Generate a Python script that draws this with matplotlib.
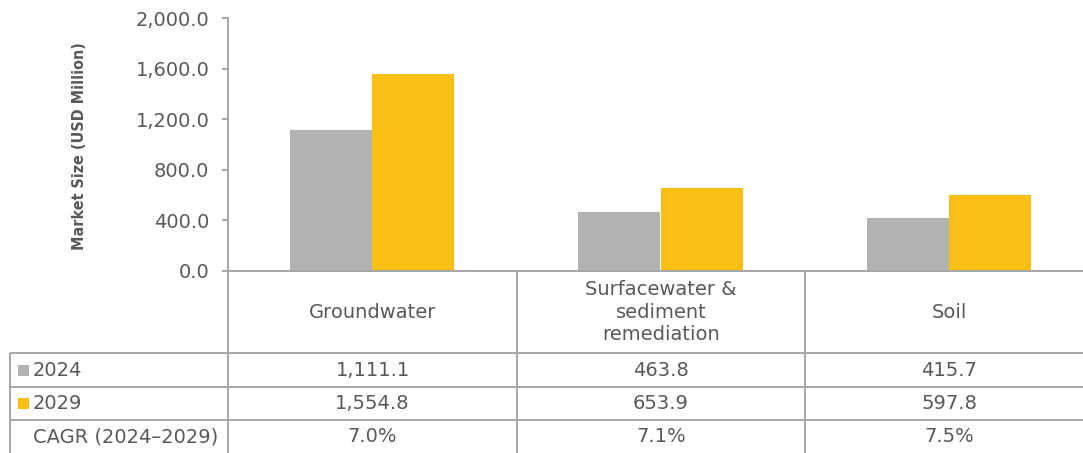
import numpy as np
import matplotlib
matplotlib.use('Agg')
import matplotlib.pyplot as plt
from matplotlib.patches import Rectangle

plt.rcParams['font.family'] = ['DejaVu Sans']

categories = ['Groundwater', 'Surfacewater &\nsediment\nremediation', 'Soil']
years = ['2024', '2029']
values_2024 = [1111.1, 463.8, 415.7]
values_2029 = [1554.8, 653.9, 597.8]
cagr = ['7.0%', '7.1%', '7.5%']
yticks = [0, 400, 800, 1200, 1600, 2000]

c_2024 = '#b1b2b4'
c_2029 = '#f9bf14'
txt = '#595959'
grid = '#a6a6a6'

W, H = 1083, 453
fig = plt.figure(figsize=(W / 100, H / 100), dpi=100)

# table frame and text, drawn in pixel coordinates
tab = fig.add_axes([0, 0, 1, 1])
tab.set_xlim(0, W)
tab.set_ylim(H, 0)
tab.axis('off')

col_edges = [228, 517, 805, 1093]
col_mid = [(a + b) / 2 for a, b in zip(col_edges[:-1], col_edges[1:])]
row_edges = [353, 387, 420, 454]
row_mid = [(a + b) / 2 for a, b in zip(row_edges[:-1], row_edges[1:])]

lw = 1.4
for x in col_edges[:-1]:
    tab.plot([x, x], [271, H], color=grid, lw=lw, solid_capstyle='butt')
tab.plot([10, 10], [353, H], color=grid, lw=lw, solid_capstyle='butt')
for y in row_edges[:-1]:
    tab.plot([10, W], [y, y], color=grid, lw=lw, solid_capstyle='butt')

fs = 14
for xm, cat in zip(col_mid, categories):
    tab.text(xm, 312, cat, ha='center', va='center', fontsize=fs, color=txt, linespacing=1.25)

rows = [
    [f'{v:,.1f}' for v in values_2024],
    [f'{v:,.1f}' for v in values_2029],
    cagr,
]
labels = years + ['CAGR (2024\u20132029)']
for ym, row, lab in zip(row_mid, rows, labels):
    tab.text(33, ym, lab, ha='left', va='center', fontsize=fs, color=txt)
    for xm, s in zip(col_mid, row):
        tab.text(xm, ym, s, ha='center', va='center', fontsize=fs, color=txt)
for ym, c in zip(row_mid[:2], [c_2024, c_2029]):
    tab.add_patch(Rectangle((18, ym - 5.5), 11, 11, color=c, lw=0))

# bar chart
ax = fig.add_axes([228 / W, (H - 271) / H, (1093 - 228) / W, (271 - 18) / H])
ax.patch.set_alpha(0)
x = np.arange(len(categories))
bw = 0.285
ax.bar(x - bw / 2, values_2024, bw, color=c_2024, edgecolor='none')
ax.bar(x + bw / 2, values_2029, bw, color=c_2029, edgecolor='none')
ax.set_xlim(-0.5, 2.5)
ax.set_ylim(0, 2000)
ax.set_yticks(yticks)
ax.set_yticklabels([f'{t:,.1f}' for t in yticks])
ax.set_xticks([])
ax.tick_params(axis='y', colors=grid, labelcolor=txt, labelsize=fs, length=4.5, width=lw, pad=9)
for s in ['top', 'right']:
    ax.spines[s].set_visible(False)
for s in ['left', 'bottom']:
    ax.spines[s].set_color(grid)
    ax.spines[s].set_linewidth(lw)

fig.text(80 / W, 1 - 146 / H, 'Market Size (USD Million)', rotation=90, ha='center', va='center',
         fontsize=11.5, color=txt, fontstretch='condensed', fontweight='bold')

fig.savefig('out.png', dpi=100)
